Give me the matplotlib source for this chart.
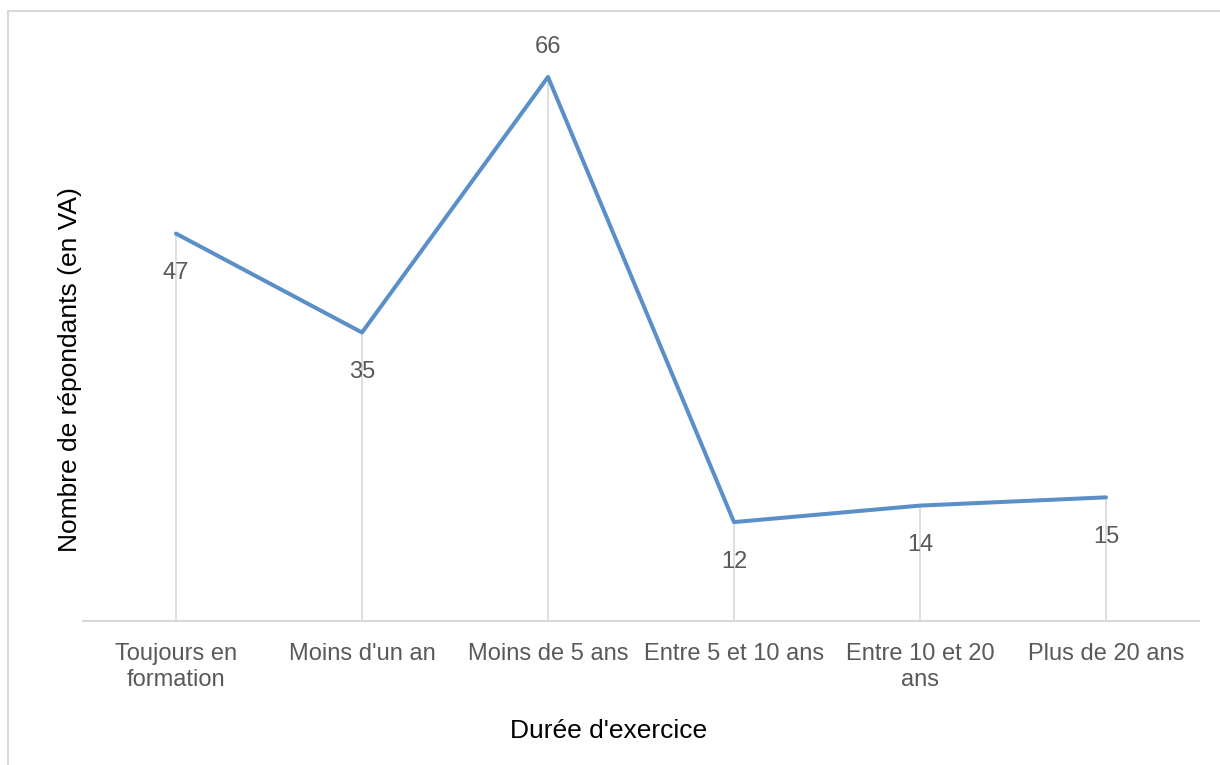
import matplotlib.pyplot as plt
from matplotlib.patches import Rectangle

plt.rcParams['font.family'] = ['Liberation Sans', 'DejaVu Sans']

# données
categories = ["Toujours en\nformation", "Moins d'un an", "Moins de 5 ans",
              "Entre 5 et 10 ans", "Entre 10 et 20\nans", "Plus de 20 ans"]
values = [47, 35, 66, 12, 14, 15]
label_above = [False, False, True, False, False, False]

fig = plt.figure(figsize=(12.2, 7.65), dpi=100)
ax = fig.add_axes([83 / 1220, 1 - 621 / 765, (1199 - 83) / 1220, (621 - 44) / 765])

x = list(range(len(values)))

# lignes de projection
ax.vlines(x, 0, values, color='#d9d9d9', linewidth=1.2, zorder=1)
ax.plot(x, values, color='#5b8fc8', linewidth=2.9, solid_capstyle='round', zorder=3)

for xi, v, up in zip(x, values, label_above):
    dy = 21.5 if up else -28.5
    ax.annotate(str(v), (xi, v), xytext=(0, dy), textcoords='offset points',
                ha='center', va='center', fontsize=17, color='#595959')

ax.set_xlim(-0.5, len(values) - 0.5)
ax.set_ylim(0, 70)
ax.set_xticks(x)
ax.set_xticklabels(categories, fontsize=17, color='#595959', linespacing=1.2)
ax.tick_params(axis='x', length=0, pad=16)
ax.set_yticks([])

for side in ['top', 'right', 'left']:
    ax.spines[side].set_visible(False)
ax.spines['bottom'].set_color('#d9d9d9')
ax.spines['bottom'].set_linewidth(1.5)

fig.text(609 / 1220, 1 - 731 / 765, "Durée d'exercice", ha='center', va='center',
         fontsize=19, color='black')
fig.text(70 / 1220, 1 - 370 / 765, "Nombre de répondants (en VA)", ha='center', va='center',
         rotation=90, fontsize=19, color='black')

# cadre du graphique
fig.patches.append(Rectangle((8 / 1220, -0.05), 1.1, 1 - 11 / 765 + 0.05,
                             transform=fig.transFigure, fill=False,
                             edgecolor='#d9d9d9', linewidth=1.5))

fig.savefig('out.png', dpi=100)
